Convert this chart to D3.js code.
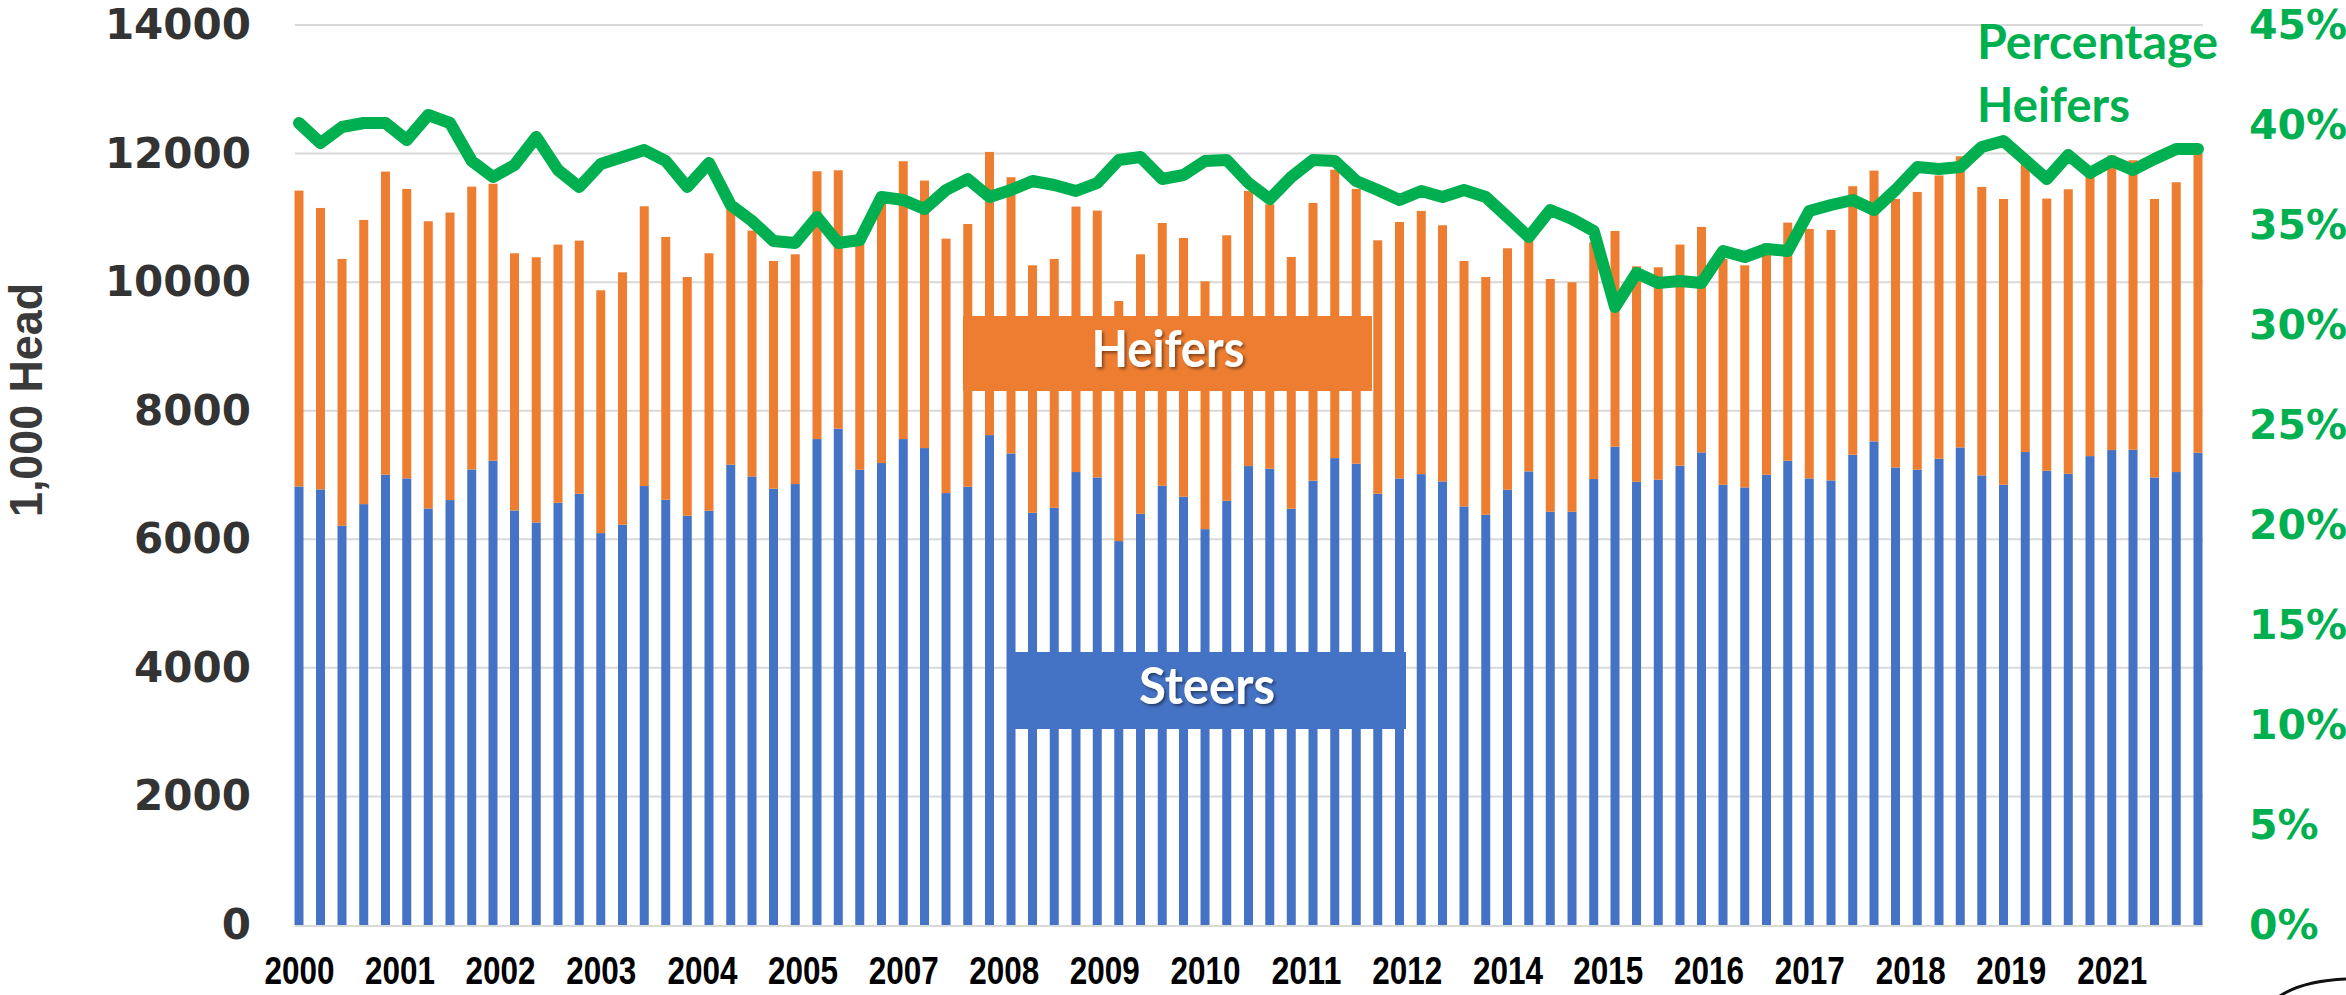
<!DOCTYPE html>
<html>
<head>
<meta charset="utf-8">
<script src="https://cdn.jsdelivr.net/npm/d3@7"></script>
<style>
  html, body { margin: 0; padding: 0; background: #fff; }
  svg { display: block; }
</style>
</head>
<body>
<svg id="chart" width="2346" height="995"></svg>
<script>
// ---------------- DATA ----------------
// Quarterly observations (Jan, Apr, Jul, Oct) from Jan 2000 to Jan 2022
const startYear = 2000;
const nQuarters = 89;

// Steers on feed (1,000 head)
const steers = [
  6822, 6776, 6210, 6547, 7004, 6947, 6480, 6610, 7087, 7222, 6449, 6262, 6568, 6708, 6096,
  6226, 6828, 6615, 6366, 6444, 7160, 6978, 6786, 6859, 7559, 7720, 7082, 7186, 7559, 7419,
  6719, 6817, 7621, 7336, 6413, 6490, 7046, 6962, 5972, 6397, 6833, 6662, 6158, 6599, 7139,
  7097, 6475, 6911, 7263, 7175, 6708, 6947, 7014, 6900, 6511, 6381, 6771, 7056, 6428, 6428,
  6937, 7440, 6895, 6926, 7144, 7352, 6848, 6807, 7004, 7222, 6947, 6916, 7315, 7523,
  7118, 7082, 7253, 7429, 6994, 6848, 7357, 7066, 7019, 7294, 7388, 7393, 6962, 7046, 7346
];

// Heifers on feed (1,000 head)
const heifers = [
  4602, 4378, 4151, 4421, 4716, 4503, 4467, 4472, 4399, 4308, 4000, 4125, 4016, 3938, 3777,
  3927, 4352, 4088, 3714, 4005, 4030, 3824, 3543, 3574, 4166, 4020, 3618, 4114, 4322, 4161,
  3958, 4088, 4405, 4296, 3849, 3871, 4129, 4151, 3735, 4036, 4088, 4025, 3855, 4130, 4280,
  4114, 3917, 4321, 4487, 4275, 3943, 3989, 4094, 3985, 3818, 3699, 3756, 3714, 3621, 3569,
  3683, 3356, 3351, 3305, 3440, 3507, 3512, 3455, 3596, 3704, 3881, 3896, 4177, 4212,
  4176, 4321, 4407, 4529, 4487, 4446, 4563, 4234, 4426, 4376, 4581, 4503, 4332, 4508, 4654
];

// Percentage heifers (%)
const pctHeifers = [
  40.1, 39.1, 39.9, 40.1, 40.1, 39.25, 40.5, 40.1, 38.2, 37.4, 38.0, 39.4, 37.75, 36.9, 38.05,
  38.4, 38.75, 38.2, 36.9, 38.1, 36.0, 35.2, 34.2, 34.1, 35.4, 34.1, 34.25, 36.4, 36.25, 35.8,
  36.75, 37.3, 36.4, 36.75, 37.2, 37.0, 36.7, 37.1, 38.25, 38.4, 37.3, 37.5, 38.2, 38.25, 37.1,
  36.3, 37.4, 38.25, 38.2, 37.2, 36.75, 36.25, 36.7, 36.4, 36.75, 36.4, 35.4, 34.4, 35.75, 35.3,
  34.7, 30.9, 32.6, 32.1, 32.2, 32.1, 33.7, 33.4, 33.8, 33.7, 35.7, 36.0, 36.25, 35.75,
  36.75, 37.9, 37.8, 37.9, 38.9, 39.2, 38.25, 37.3, 38.5, 37.6, 38.2, 37.75, 38.3, 38.8, 38.8
];

// X-axis tick dates (every 14 months) and labels
const tickDates = ["2000-01","2001-03","2002-05","2003-07","2004-09","2005-11","2007-01",
  "2008-03","2009-05","2010-07","2011-09","2012-11","2014-01","2015-03","2016-05",
  "2017-07","2018-09","2019-11","2021-01"];
const leftTicks = [0, 2000, 4000, 6000, 8000, 10000, 12000, 14000];
const rightTicks = [0, 0.05, 0.10, 0.15, 0.20, 0.25, 0.30, 0.35, 0.40, 0.45];

// ---------------- BUILD ----------------
const parseYM = d3.timeParse("%Y-%m");
const dates = d3.range(nQuarters).map(i => new Date(startYear + Math.floor(i / 4), (i % 4) * 3, 1));
const rows = dates.map((d, i) => ({ date: d, steers: steers[i], heifers: heifers[i], pct: pctHeifers[i] / 100 }));

const svg = d3.select("#chart");
const plot = { left: 295, right: 2203, top: 25, bottom: 925 };

const x = d3.scaleTime()
  .domain([dates[0], dates[dates.length - 1]])
  .range([299, 2198]);
const y = d3.scaleLinear().domain([0, 14000]).range([plot.bottom, plot.top]);
const yR = d3.scaleLinear().domain([0, 0.45]).range([plot.bottom, plot.top]);

// Gridlines
svg.append("g")
  .selectAll("line")
  .data(leftTicks.filter(d => d > 0))
  .join("line")
  .attr("x1", plot.left).attr("x2", plot.right)
  .attr("y1", d => y(d)).attr("y2", d => y(d))
  .attr("stroke", "#d9d9d9").attr("stroke-width", 2);

// Stacked bars
const stack = d3.stack().keys(["steers", "heifers"]);
const series = stack(rows);
const colors = { steers: "#4472C4", heifers: "#ED7D31" };
const barW = 9;
svg.append("g")
  .selectAll("g")
  .data(series)
  .join("g")
  .attr("fill", s => colors[s.key])
  .selectAll("rect")
  .data(s => s)
  .join("rect")
  .attr("x", d => x(d.data.date) - barW / 2)
  .attr("width", barW)
  .attr("y", d => y(d[1]))
  .attr("height", d => y(d[0]) - y(d[1]));

// Bottom axis line
svg.append("line")
  .attr("x1", plot.left).attr("x2", plot.right)
  .attr("y1", plot.bottom + 1).attr("y2", plot.bottom + 1)
  .attr("stroke", "#d9d9d9").attr("stroke-width", 2);

// Left axis
const gL = svg.append("g")
  .attr("transform", `translate(${plot.left},0)`)
  .call(d3.axisLeft(y).tickValues(leftTicks).tickFormat(d3.format("d")).tickSize(0).tickPadding(44));
gL.select(".domain").remove();
gL.selectAll("text")
  .attr("font-family", "'DejaVu Sans', Verdana, sans-serif")
  .attr("font-weight", "bold")
  .attr("font-size", 42)
  .attr("fill", "#333333");

// Right axis
const gR = svg.append("g")
  .attr("transform", `translate(${plot.right},0)`)
  .call(d3.axisRight(yR).tickValues(rightTicks).tickFormat(d3.format(".0%")).tickSize(0).tickPadding(46));
gR.select(".domain").remove();
gR.selectAll("text")
  .attr("font-family", "'DejaVu Sans', Verdana, sans-serif")
  .attr("font-weight", "bold")
  .attr("font-size", 41)
  .attr("fill", "#00B050");

// Bottom axis labels
const gB = svg.append("g")
  .attr("transform", `translate(0,${plot.bottom})`)
  .call(d3.axisBottom(x).tickValues(tickDates.map(parseYM)).tickFormat(d3.timeFormat("%Y")).tickSize(0).tickPadding(32));
gB.select(".domain").remove();
gB.selectAll("text")
  .attr("font-family", "'Liberation Sans Narrow', 'Arial Narrow', 'Liberation Sans', sans-serif")
  .attr("font-weight", "bold")
  .attr("font-size", 38)
  .attr("textLength", 70)
  .attr("lengthAdjust", "spacingAndGlyphs")
  .attr("fill", "#000");

// Left axis title
svg.append("text")
  .attr("transform", "translate(42,400) rotate(-90)")
  .attr("text-anchor", "middle")
  .attr("font-family", "'Liberation Sans Narrow', 'Arial Narrow', 'Liberation Sans', sans-serif")
  .attr("font-weight", "bold")
  .attr("font-size", 46)
  .attr("textLength", 234)
  .attr("lengthAdjust", "spacingAndGlyphs")
  .attr("fill", "#3a3a3a")
  .text("1,000 Head");

// Shadow filter
const defs = svg.append("defs");
const f = defs.append("filter").attr("id", "shadow").attr("x", "-10%").attr("y", "-10%").attr("width", "130%").attr("height", "140%");
f.append("feDropShadow").attr("dx", 2).attr("dy", 2).attr("stdDeviation", 1.5).attr("flood-color", "#000").attr("flood-opacity", 0.45);

// Heifers label box
svg.append("rect").attr("x", 963).attr("y", 316).attr("width", 409).attr("height", 75).attr("fill", "#ED7D31");
svg.append("text")
  .attr("x", 1168).attr("y", 367)
  .attr("text-anchor", "middle")
  .attr("font-family", "Lato, 'Open Sans', sans-serif")
  .attr("font-weight", "bold")
  .attr("font-size", 51)
  .attr("textLength", 153).attr("lengthAdjust", "spacingAndGlyphs")
  .attr("fill", "#fff")
  .attr("filter", "url(#shadow)")
  .text("Heifers");

// Steers label box
svg.append("rect").attr("x", 1007).attr("y", 652).attr("width", 399).attr("height", 77).attr("fill", "#4472C4");
svg.append("text")
  .attr("x", 1207).attr("y", 704)
  .attr("text-anchor", "middle")
  .attr("font-family", "Lato, 'Open Sans', sans-serif")
  .attr("font-weight", "bold")
  .attr("font-size", 51)
  .attr("textLength", 136).attr("lengthAdjust", "spacingAndGlyphs")
  .attr("fill", "#fff")
  .attr("filter", "url(#shadow)")
  .text("Steers");

// Percentage line
const line = d3.line().x(d => x(d.date)).y(d => yR(d.pct));
svg.append("path")
  .datum(rows)
  .attr("d", line)
  .attr("fill", "none")
  .attr("stroke", "#00B050")
  .attr("stroke-width", 12)
  .attr("stroke-linejoin", "round")
  .attr("stroke-linecap", "round");

// Percentage Heifers label
const lab = svg.append("text")
  .attr("font-family", "Lato, 'Open Sans', sans-serif")
  .attr("font-weight", "bold")
  .attr("font-size", 47)
  .attr("fill", "#00B050");
lab.append("tspan").attr("x", 1977).attr("y", 59).attr("textLength", 241).attr("lengthAdjust", "spacingAndGlyphs").text("Percentage");
lab.append("tspan").attr("x", 1977).attr("y", 122).attr("textLength", 153).attr("lengthAdjust", "spacingAndGlyphs").text("Heifers");

// Decorative arc (bottom-right corner)
svg.append("path")
  .attr("d", "M2277,998 Q2300,981 2346,979")
  .attr("fill", "none")
  .attr("stroke", "#111")
  .attr("stroke-width", 3);
</script>
</body>
</html>
